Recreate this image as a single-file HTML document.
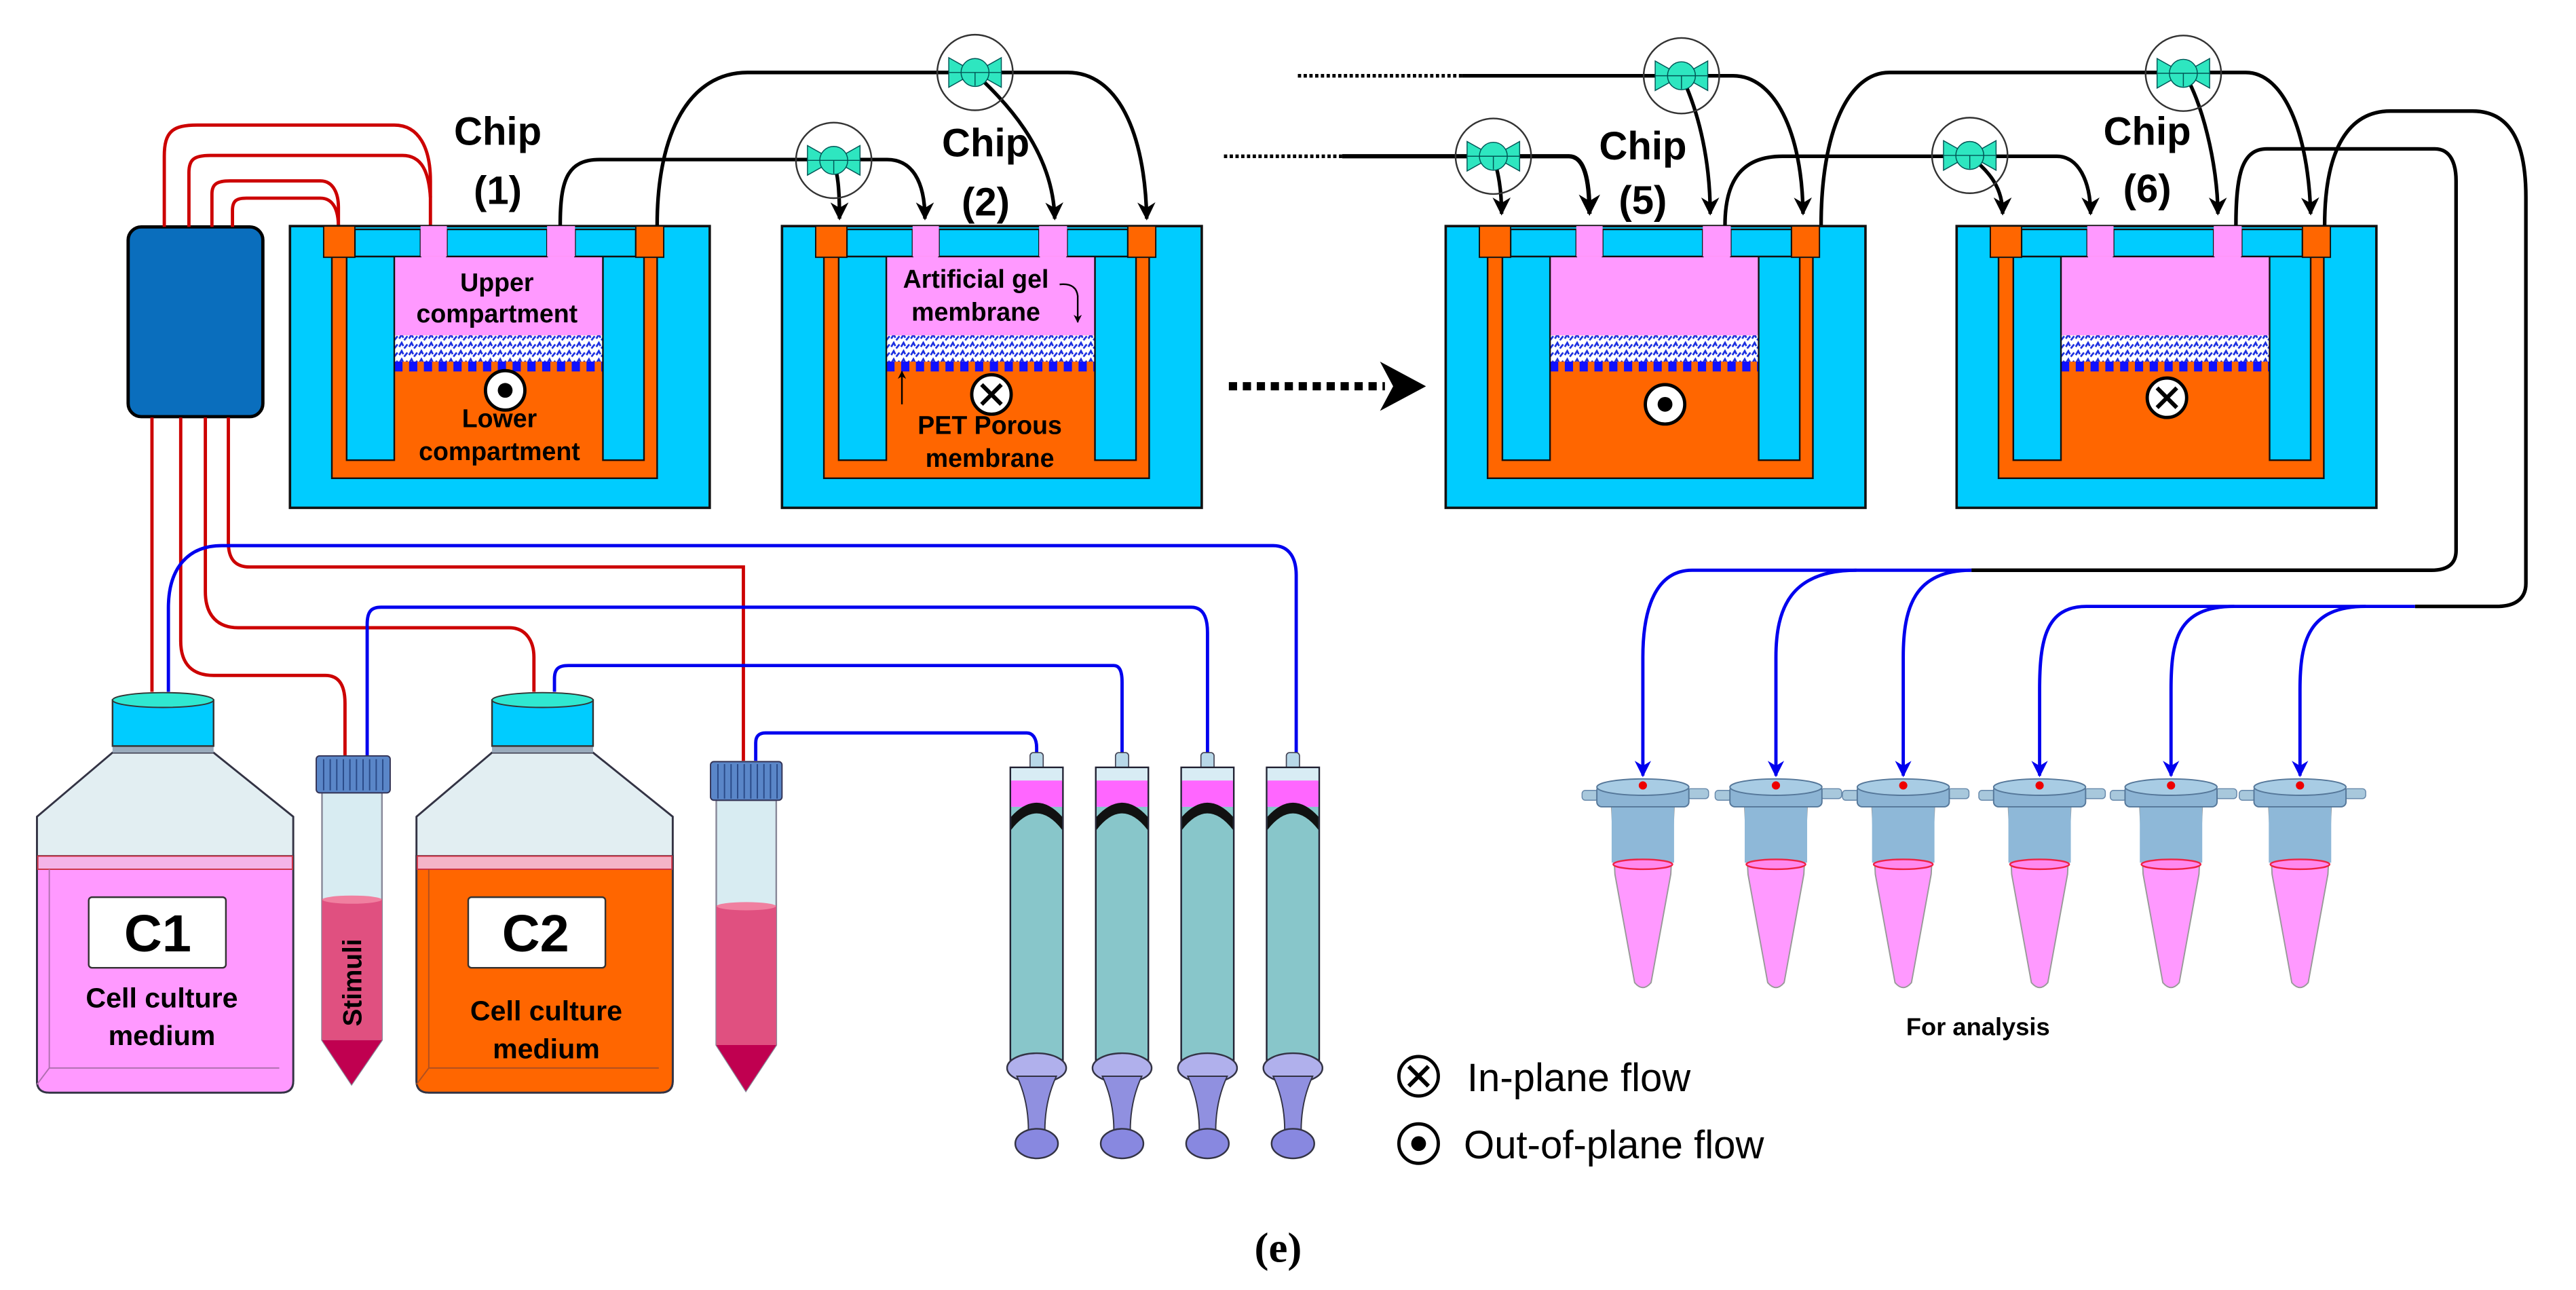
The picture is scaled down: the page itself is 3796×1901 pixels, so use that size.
<!DOCTYPE html>
<html><head><meta charset="utf-8"><style>html,body{margin:0;padding:0;background:#fff}svg{display:block}</style></head>
<body>
<svg xmlns="http://www.w3.org/2000/svg" width="3796" height="1901" viewBox="0 0 1568 785" font-family="'Liberation Sans', sans-serif">
<defs>
<pattern id="gel" width="6" height="5" patternUnits="userSpaceOnUse">
<rect width="6" height="5" fill="#fff"/>
<path d="M0.5 3.5 L2 1 L3 3 M3.5 4.5 L5.5 2" stroke="#1a2ee0" stroke-width="1.1" fill="none"/>
</pattern>
<marker id="ak" viewBox="0 0 10 10" refX="9" refY="5" markerWidth="5" markerHeight="5" orient="auto" markerUnits="strokeWidth"><path d="M0 0 L10 5 L0 10 L3 5 Z" fill="#000"/></marker>
<marker id="ab" viewBox="0 0 10 10" refX="9" refY="5" markerWidth="5" markerHeight="5" orient="auto" markerUnits="strokeWidth"><path d="M0 0 L10 5 L0 10 L3 5 Z" fill="#0000ee"/></marker>
<g id="chip">
<rect x="0" y="0" width="255.5" height="171.5" fill="#00CCFF" stroke="#111" stroke-width="1.5"/>
<rect x="25.5" y="17.5" width="198" height="136" fill="#FF6600" stroke="#111" stroke-width="1"/>
<rect x="63.5" y="18.5" width="127" height="48" fill="#FF99FF"/>
<rect x="63.5" y="66.5" width="127" height="16" fill="url(#gel)"/>
<line x1="63.5" y1="85.5" x2="190.5" y2="85.5" stroke="#1010ff" stroke-width="6" stroke-dasharray="5 4"/>
<rect x="34.5" y="18.5" width="29" height="124" fill="#00CCFF" stroke="#111" stroke-width="1"/>
<rect x="190.5" y="18.5" width="25" height="124" fill="#00CCFF" stroke="#111" stroke-width="1"/>
<rect x="39.5" y="2" width="40" height="16.5" fill="#00CCFF" stroke="#111" stroke-width="1"/>
<rect x="95.5" y="2" width="61" height="16.5" fill="#00CCFF" stroke="#111" stroke-width="1"/>
<rect x="173.5" y="2" width="37" height="16.5" fill="#00CCFF" stroke="#111" stroke-width="1"/>
<rect x="20.5" y="0" width="19" height="19" fill="#FF6600" stroke="#111" stroke-width="0.8"/>
<rect x="210.5" y="0" width="17" height="19" fill="#FF6600" stroke="#111" stroke-width="0.8"/>
<rect x="79.5" y="0" width="16" height="18.5" fill="#FF99FF"/>
<rect x="156.5" y="0" width="17" height="18.5" fill="#FF99FF"/>
</g>
<g id="valve">
<circle r="23" fill="none" stroke="#333" stroke-width="1"/>
<path d="M-16 -9 L0 0 L-16 9 Z M16 -9 L0 0 L16 9 Z" fill="#2EE6C0" stroke="#055" stroke-width="0.6"/>
<circle r="8.5" fill="#2EE6C0" stroke="#055" stroke-width="0.6"/>
<path d="M-16 0 L16 0 M0 0 L0 8" stroke="#055" stroke-width="0.6"/>
</g>
<g id="odot"><circle r="12" fill="#fff" stroke="#000" stroke-width="2"/><circle r="4.5" fill="#000"/></g>
<g id="oxx"><circle r="12" fill="#fff" stroke="#000" stroke-width="2"/><path d="M-6 -6 L6 6 M6 -6 L-6 6" stroke="#000" stroke-width="2.5"/></g>
<g id="epp">
<path d="M-19 491 L19 491 L17 532 L5 598 Q0 604 -5 598 L-17 532 Z" fill="#FF99FF" stroke="#999" stroke-width="0.8"/>
<rect x="-19" y="491" width="38" height="34" fill="#8EB8D8"/>
<ellipse cx="0" cy="526" rx="18" ry="3" fill="#FF88EE" stroke="#ee2244" stroke-width="1"/>
<rect x="-37" y="481" width="10" height="6" rx="2" fill="#A8C8DC" stroke="#6688aa" stroke-width="0.6"/>
<rect x="27" y="480" width="13" height="6" rx="2" fill="#A8C8DC" stroke="#6688aa" stroke-width="0.6"/>
<rect x="-28" y="478" width="56" height="13" rx="3" fill="#8CB4D4" stroke="#557799" stroke-width="0.8"/>
<ellipse cx="0" cy="479" rx="28" ry="5" fill="#A8CCE4" stroke="#557799" stroke-width="0.8"/>
<circle cx="0" cy="478" r="2.5" fill="#e00"/>
</g>
<g id="syr">
<rect x="-4" y="458" width="8" height="12" rx="2" fill="#B8D8E8" stroke="#445" stroke-width="0.7"/>
<rect x="-16" y="467" width="32" height="178" fill="#88C6CA" stroke="#223" stroke-width="1"/>
<rect x="-15.5" y="467.5" width="31" height="8" fill="#D8ECF4"/>
<rect x="-15.5" y="475" width="31" height="16" fill="#FF66FF"/>
<path d="M-15.5 505 Q0 485 15.5 505 L15.5 497 Q0 480 -15.5 497 Z" fill="#111"/>
<ellipse cx="0" cy="650" rx="18" ry="9" fill="#B0B0EC" stroke="#334" stroke-width="1"/>
<path d="M-12 655 Q-5 670 -5 688 L5 688 Q5 670 12 655 Z" fill="#9090E0" stroke="#334" stroke-width="0.8"/>
<ellipse cx="0" cy="696" rx="13" ry="9" fill="#8888E0" stroke="#334" stroke-width="1"/>
</g>
<g id="bottle">
<path d="M68.5 458 L130 458 L178.5 497 L178.5 658 Q178.5 665 171 665 L30 665 Q22.5 665 22.5 658 L22.5 497 Z" fill="#E2EEF2" stroke="#334" stroke-width="1.2"/>
<rect x="68.5" y="452" width="61.5" height="6" fill="#9ab"/>
</g>
</defs>

<rect x="78" y="138" width="82" height="115.5" rx="8" fill="#0A6EBD" stroke="#000" stroke-width="2"/>

<g fill="none" stroke="#CC0000" stroke-width="2">
<path d="M100 138 L100 95 C100 80 105 76 120 76 L240 76 C255 76 262 90 262 110 L262 137"/>
<path d="M115 138 L115 105 C115 97 118 94.5 128 94.5 L245 94.5 C257 94.5 261 105 262 120"/>
<path d="M129 138 L129 118 C129 112 132 110 140 110 L195 110 C203 110 206 118 206 126 L206 140"/>
<path d="M141.5 138 L141.5 128 C141.5 122 144 120.5 150 120.5 L195 120.5 C203 120.5 206 128 206 138"/>
<path d="M92.5 254 L92.5 421"/>
<path d="M110 254 L110 390 C110 405 118 411 130 411 L198 411 C207 411 210 418 210 428 L210 460"/>
<path d="M125 254 L125 360 C125 375 133 382 145 382 L310 382 C320 382 325 390 325 400 L325 421"/>
<path d="M139 254 L139 330 C139 340 143 345 152 345 L452.5 345 L452.5 463"/>
</g>
<g fill="none" stroke="#0000ee" stroke-width="2">
<path d="M102.5 421 L102.5 370 C102.5 345 115 332 135 332 L775 332 C785 332 789 340 789 350 L789 460"/>
<path d="M223.5 460 L223.5 380 C223.5 372 226 369.5 232 369.5 L725 369.5 C732 369.5 735 375 735 385 L735 460"/>
<path d="M337.5 421 L337.5 413 C337.5 407 340 405 346 405 L678 405 C682 405 683 410 683 415 L683 460"/>
<path d="M460 463 L460 452 C460 448 462 446 466 446 L625 446 C629 446 631 450 631 455 L631 460"/>
</g>

<use href="#chip" x="176.5" y="137.5"/>
<use href="#chip" x="476" y="137.5"/>
<use href="#chip" x="880" y="137.5"/>
<use href="#chip" x="1191" y="137.5"/>

<use href="#odot" x="307.5" y="237.5"/>
<use href="#oxx" x="603.5" y="240"/>
<use href="#odot" x="1013.5" y="246"/>
<use href="#oxx" x="1319" y="242"/>

<g font-weight="bold" font-size="15.5" text-anchor="middle" fill="#000">
<text x="302.5" y="177">Upper</text>
<text x="302.5" y="196">compartment</text>
<text x="304" y="260">Lower</text>
<text x="304" y="280">compartment</text>
<text x="594" y="175">Artificial gel</text>
<text x="594" y="195">membrane</text>
<text x="602.5" y="264">PET Porous</text>
<text x="602.5" y="284">membrane</text>
</g>
<path d="M645 173 Q655 172 656 180 L656 196" fill="none" stroke="#000" stroke-width="1" marker-end="url(#ak)"/>
<path d="M549 246 L549 226" fill="none" stroke="#000" stroke-width="1" marker-end="url(#ak)"/>

<g font-weight="bold" font-size="24" text-anchor="middle" fill="#000">
<text x="303" y="88">Chip</text><text x="303" y="124">(1)</text>
<text x="600" y="95">Chip</text><text x="600" y="131">(2)</text>
<text x="1000" y="97">Chip</text><text x="1000" y="130">(5)</text>
<text x="1307" y="88">Chip</text><text x="1307" y="123">(6)</text>
</g>

<g fill="none" stroke="#000" stroke-width="2.2">
<path d="M341 137 C341 110 345 97 365 97 L540 97 C555 97 563 110 563 133" marker-end="url(#ak)"/>
<path d="M507 97 C510 105 511 115 511 133" marker-end="url(#ak)"/>
<path d="M400 137 C400 80 420 44 455 44 L650 44 C680 44 697 80 698 133" marker-end="url(#ak)"/>
<path d="M593 44 C610 60 641 90 642 133" marker-end="url(#ak)"/>
<path d="M790 46 L890 46" stroke-dasharray="2 1.5"/>
<path d="M890 46 L1055 46 C1080 46 1097 80 1097.5 130" marker-end="url(#ak)"/>
<path d="M1023.5 46 C1035 70 1041 100 1041 130" marker-end="url(#ak)"/>
<path d="M745 95 L817 95" stroke-dasharray="2 1.5"/>
<path d="M817 95 L955 95 C963 95 967.5 105 967.5 130" marker-end="url(#ak)" stroke-width="2.6"/>
<path d="M909 95 C912 105 914 115 914 130" marker-end="url(#ak)"/>
<path d="M1050 137 C1050 110 1060 95 1085 95 L1252 95 C1265 95 1272.5 110 1272.5 130" marker-end="url(#ak)"/>
<path d="M1199 95 C1212 105 1219 115 1219 130" marker-end="url(#ak)"/>
<path d="M1108.5 137 C1108.5 80 1125 44 1150 44 L1367 44 C1390 44 1405 80 1406.5 130" marker-end="url(#ak)"/>
<path d="M1329 44 C1340 60 1350 100 1350 130" marker-end="url(#ak)"/>
<path d="M1361 137 C1361 105 1365 90.5 1380 90.5 L1482 90.5 C1492 90.5 1495 100 1495 110 L1495 335 C1495 343 1490 347 1480 347 L1200 347"/>
<path d="M1415 137 C1415 90 1430 67.5 1455 67.5 L1505 67.5 C1530 67.5 1537.5 90 1537.5 120 L1537.5 355 C1537.5 365 1530 369 1520 369 L1470 369"/>
</g>
<use href="#valve" x="507.5" y="97.5"/>
<use href="#valve" x="593.5" y="44"/>
<use href="#valve" x="909" y="95"/>
<use href="#valve" x="1023.5" y="46"/>
<use href="#valve" x="1199" y="94.5"/>
<use href="#valve" x="1329" y="44.5"/>

<path d="M748 235 L843 235" stroke="#000" stroke-width="5" stroke-dasharray="5 3.5"/>
<path d="M840 220 L868 235 L840 250 L848 235 Z" fill="#000"/>

<g fill="none" stroke="#0000ee" stroke-width="2">
<path d="M1200 347 L1030 347 C1008 347 1000 370 1000 400 L1000 472" marker-end="url(#ab)"/>
<path d="M1130 347 C1090 347 1081 370 1081 400 L1081 472" marker-end="url(#ab)"/>
<path d="M1200 347 C1165 347 1158.5 370 1158.5 400 L1158.5 472" marker-end="url(#ab)"/>
<path d="M1470 369 L1270 369 C1245 369 1241.5 390 1241.5 420 L1241.5 472" marker-end="url(#ab)"/>
<path d="M1360 369 C1325 369 1321.5 390 1321.5 420 L1321.5 472" marker-end="url(#ab)"/>
<path d="M1440 369 C1405 369 1400 390 1400 420 L1400 472" marker-end="url(#ab)"/>
</g>
<use href="#epp" x="1000" y="0"/>
<use href="#epp" x="1081" y="0"/>
<use href="#epp" x="1158.5" y="0"/>
<use href="#epp" x="1241.5" y="0"/>
<use href="#epp" x="1321.5" y="0"/>
<use href="#epp" x="1400" y="0"/>
<text x="1204" y="630" font-weight="bold" font-size="15" text-anchor="middle">For analysis</text>

<use href="#oxx" x="863.5" y="655"/>
<use href="#odot" x="863.5" y="696"/>
<text x="893" y="664" font-size="24">In-plane flow</text>
<text x="891" y="705" font-size="24">Out-of-plane flow</text>

<use href="#bottle"/>
<path d="M22.5 521 L178.5 521 L178.5 658 Q178.5 665 171 665 L30 665 Q22.5 665 22.5 658 Z" fill="#FF99FF" stroke="#334" stroke-width="1.2"/>
<rect x="23" y="521" width="155" height="8" fill="#F4B4E8" stroke="#CC3344" stroke-width="0.8"/>
<path d="M30 529 L30 650 L22.5 660 M30 650 L170 650" fill="none" stroke="#b070b0" stroke-width="0.8"/>
<rect x="68.5" y="426" width="61.5" height="28" fill="#00CCFF" stroke="#333" stroke-width="1"/>
<ellipse cx="99.25" cy="426" rx="30.75" ry="4.5" fill="#30E8D0" stroke="#333" stroke-width="0.8"/>
<rect x="54" y="546" width="83.5" height="43" rx="2" fill="#fff" stroke="#333" stroke-width="1"/>
<text x="96" y="579" font-weight="bold" font-size="32" text-anchor="middle">C1</text>
<text x="98.5" y="613" font-weight="bold" font-size="17" text-anchor="middle">Cell culture</text>
<text x="98.5" y="636" font-weight="bold" font-size="17" text-anchor="middle">medium</text>

<g transform="translate(231,0)">
<use href="#bottle"/>
<path d="M22.5 521 L178.5 521 L178.5 658 Q178.5 665 171 665 L30 665 Q22.5 665 22.5 658 Z" fill="#FF6600" stroke="#334" stroke-width="1.2"/>
<rect x="23" y="521" width="155" height="8" fill="#F4B4C8" stroke="#CC3344" stroke-width="0.8"/>
<path d="M30 529 L30 650 L22.5 660 M30 650 L170 650" fill="none" stroke="#b05020" stroke-width="0.8"/>
<rect x="68.5" y="426" width="61.5" height="28" fill="#00CCFF" stroke="#333" stroke-width="1"/>
<ellipse cx="99.25" cy="426" rx="30.75" ry="4.5" fill="#30E8D0" stroke="#333" stroke-width="0.8"/>
<rect x="54" y="546" width="83.5" height="43" rx="2" fill="#fff" stroke="#333" stroke-width="1"/>
<text x="95" y="579" font-weight="bold" font-size="32" text-anchor="middle">C2</text>
<text x="101.5" y="621" font-weight="bold" font-size="17" text-anchor="middle">Cell culture</text>
<text x="101.5" y="644" font-weight="bold" font-size="17" text-anchor="middle">medium</text>
</g>

<path d="M196 482 L232.5 482 L232.5 633 L214 660 L196 633 Z" fill="#D8ECF2" stroke="#889" stroke-width="1"/>
<path d="M196 547 L232.5 547 L232.5 633 L196 633 Z" fill="#E05080"/>
<path d="M196 633 L232.5 633 L214 660 Z" fill="#C00050"/>
<ellipse cx="214.25" cy="547.5" rx="18" ry="2.5" fill="#F080A0"/>
<rect x="192.5" y="460" width="45" height="22.5" rx="2" fill="#5A86C8" stroke="#335" stroke-width="0.8"/>
<path d="M197 462 V481 M201 462 V481 M205 462 V481 M209 462 V481 M213 462 V481 M217 462 V481 M221 462 V481 M225 462 V481 M229 462 V481 M233 462 V481" stroke="#2a4a88" stroke-width="0.8"/>
<text transform="translate(220,598) rotate(-90)" font-weight="bold" font-size="16" text-anchor="middle" fill="#000">Stimuli</text>

<path d="M436 487 L472.5 487 L472.5 636 L454 664 L436 636 Z" fill="#D8ECF2" stroke="#889" stroke-width="1"/>
<path d="M436 551 L472.5 551 L472.5 636 L436 636 Z" fill="#E05080"/>
<path d="M436 636 L472.5 636 L454 664 Z" fill="#C00050"/>
<ellipse cx="454.25" cy="551.5" rx="18" ry="2.5" fill="#F080A0"/>
<rect x="432.5" y="463.5" width="43.5" height="23.5" rx="2" fill="#5A86C8" stroke="#335" stroke-width="0.8"/>
<path d="M437 465 V486 M441 465 V486 M445 465 V486 M449 465 V486 M453 465 V486 M457 465 V486 M461 465 V486 M465 465 V486 M469 465 V486 M473 465 V486" stroke="#2a4a88" stroke-width="0.8"/>

<use href="#syr" x="631" y="0"/>
<use href="#syr" x="683" y="0"/>
<use href="#syr" x="735" y="0"/>
<use href="#syr" x="787" y="0"/>

<text x="778" y="768" font-family="'Liberation Serif', serif" font-weight="bold" font-size="26" text-anchor="middle">(e)</text>
</svg>
</body></html>
